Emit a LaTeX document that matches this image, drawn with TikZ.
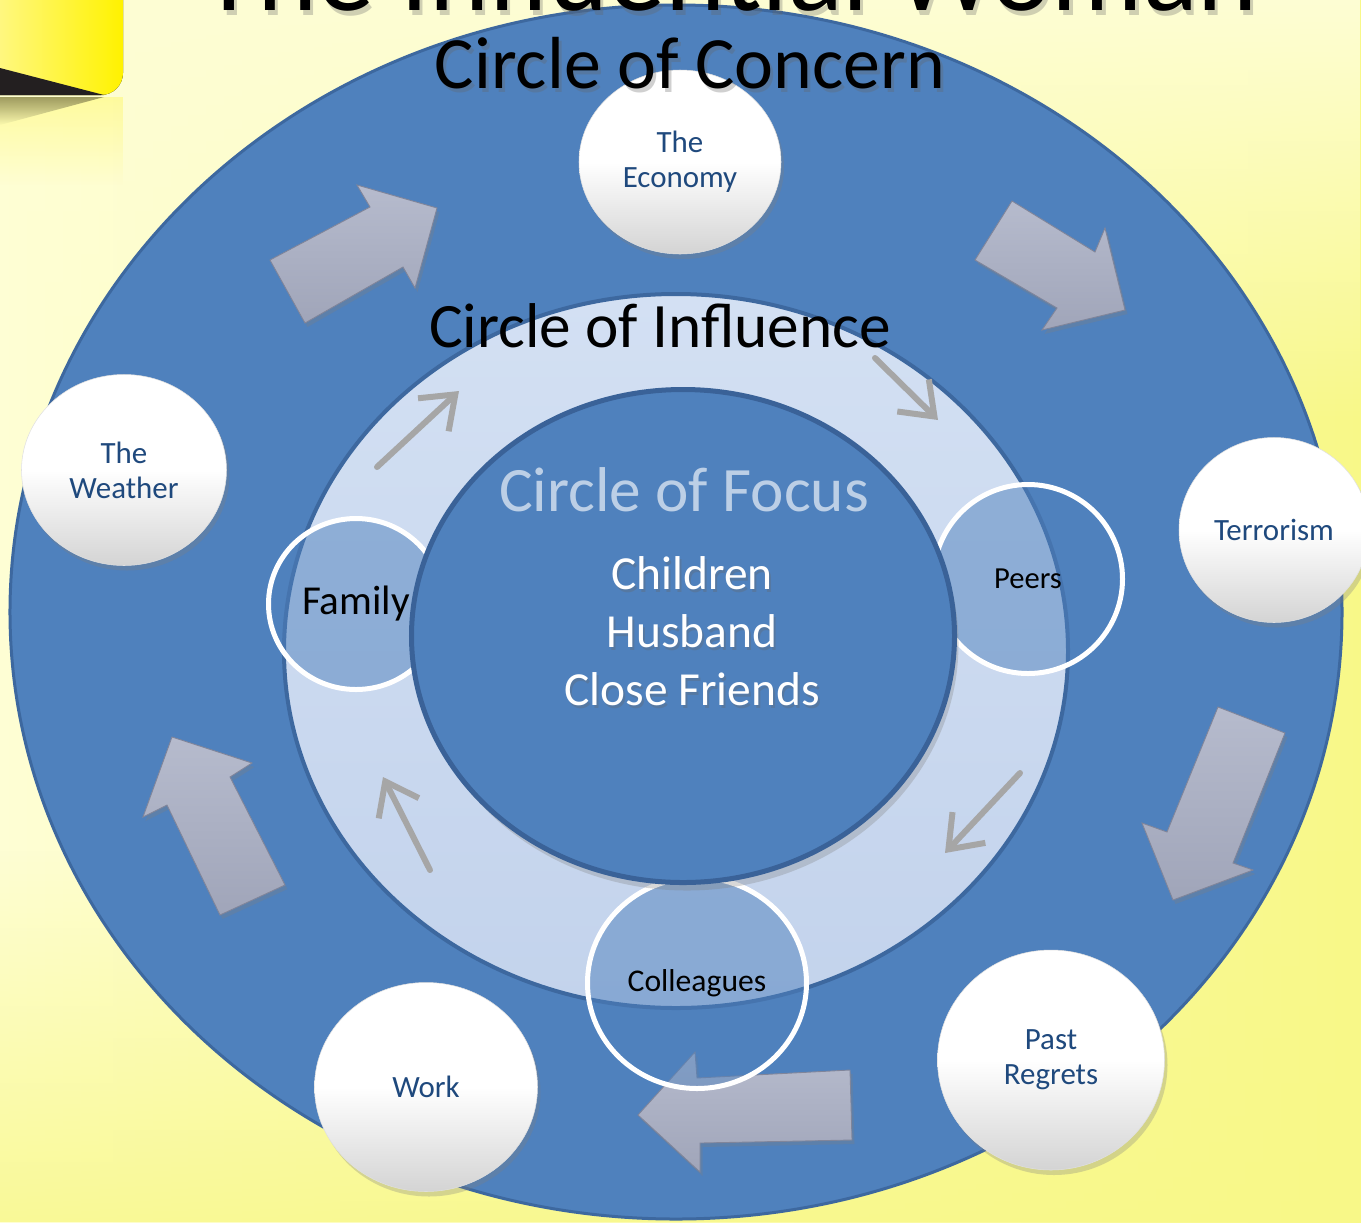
\documentclass[tikz,border=0pt]{standalone}
\usepackage{fontspec}
\setmainfont{Carlito}
\usetikzlibrary{shapes.geometric,shadows,arrows.meta,fadings}

\definecolor{concernblue}{HTML}{4F81BD}
\definecolor{edgeblue}{HTML}{3D689F}
\definecolor{focusedge}{HTML}{3A6298}
\definecolor{ringtop}{HTML}{D3E0F3}
\definecolor{ringlight}{HTML}{C3D3EC}
\definecolor{focustext}{HTML}{BCCFE6}
\definecolor{bubbletext}{HTML}{1F497D}
\definecolor{arrowtop}{HTML}{B6BBCD}
\definecolor{arrowbottom}{HTML}{A0A5B9}
\definecolor{arrowedge}{HTML}{80859A}
\definecolor{flowgray}{HTML}{A6A6A6}
\definecolor{bgpale}{HTML}{FEFED4}
\definecolor{bgyellow}{HTML}{F8F888}
\definecolor{tabpale}{HTML}{FFF9A8}
\definecolor{tabyellow}{HTML}{FFF200}
\definecolor{tabblack}{HTML}{231F20}

\tikzset{
  bubble/.style={ellipse, draw=black!12, line width=.3pt, top color=white, bottom color=black!17, middle color=white,
    text=bubbletext, align=center, inner sep=0pt, font=\fontsize{17.6}{20}\selectfont,
    drop shadow={shadow xshift=.6mm, shadow yshift=-1mm, opacity=.3}},
  member/.style={ellipse, draw=white, line width=1mm, fill=concernblue, fill opacity=.5, text opacity=1, inner sep=0pt},
  blockarrow/.style={draw=arrowedge, line width=.5pt, top color=arrowtop, bottom color=arrowbottom, line join=miter,
    drop shadow={shadow xshift=.5mm, shadow yshift=-.8mm, opacity=.3}},
  flowarrow/.style={draw=flowgray, line width=1.2mm, line cap=round,
    -{Straight Barb[length=6mm, width=9mm, line join=miter]}},
  shade/.style={text=black!60, opacity=.3}
}

\begin{document}
\begin{tikzpicture}[x=0.2mm, y=-0.2mm]
  \useasboundingbox (0,0) rectangle (1361,1222);
  \fill[left color=bgpale, right color=bgyellow] (0,0) rectangle (1361,1222);
  \fill[bgpale, path fading=south] (0,0) rectangle (1361,420);
  \fill[bgyellow, opacity=.8, path fading=north] (0,850) rectangle (1361,1222);

  % corner tab and its reflection
  \fill[left color=tabpale, right color=tabyellow, rounded corners=4.4mm] (-40,-40) rectangle (123,95);
  \fill[tabblack] (0,68) -- (104,95) -- (0,95) -- cycle;
  \fill[black!50, path fading=south] (0,97) -- (104,97) -- (0,125) -- cycle;
  \fill[tabyellow, opacity=.25, path fading=south] (0,97) rectangle (123,185);

  \node[ellipse, fill=concernblue, draw=edgeblue, line width=.6mm, minimum width=266.4mm, minimum height=242.8mm] (concern) at (676,612) {};

  \node[shade, anchor=base, font=\fontsize{65}{70}\selectfont] (womanshade) at (733,15) {The Influential Woman};
  \node[anchor=base, font=\fontsize{65}{70}\selectfont] (woman) at (730,10) {The Influential Woman};

  % block arrows round the outer circle
  \path[blockarrow] (270,260) -- (370,207) -- (357,185) -- (437,208) -- (415,288) -- (403,267) -- (305,323) -- cycle;
  \path[blockarrow] (975,260) -- (1012,201) -- (1095,252) -- (1105,228) -- (1125,310) -- (1042,330) -- (1057,308) -- cycle;
  \path[blockarrow] (1218,707) -- (1285,733) -- (1233,863) -- (1253,870) -- (1173,900) -- (1142,823) -- (1167,832) -- cycle;
  \path[blockarrow] (850,1070) -- (852,1140) -- (700,1143) -- (700,1172) -- (638,1115) -- (695,1052) -- (697,1078) -- cycle;
  \path[blockarrow] (172,737) -- (252,763) -- (230,777) -- (285,885) -- (220,915) -- (167,805) -- (143,817) -- cycle;

  \node[bubble, minimum width=40.4mm, minimum height=36.8mm] (economy) at (680,162) {The\\Economy};
  \node[bubble, minimum width=41mm, minimum height=38.2mm] (weather) at (124,470) {The\\Weather};
  \node[bubble, minimum width=38mm, minimum height=37mm] (terrorism) at (1274,530) {Terrorism};
  \node[bubble, minimum width=45.4mm, minimum height=44mm] (regrets) at (1051,1060) {Past\\Regrets};
  \node[bubble, minimum width=44.6mm, minimum height=41.8mm] (work) at (426,1087) {Work};

  \node[ellipse, draw=edgeblue, line width=.8mm, top color=ringtop, bottom color=ringlight,
    minimum width=156.8mm, minimum height=142.8mm] (influence) at (676,651) {};

  % arrows inside the ring
  \foreach \n/\tx/\ty/\hx/\hy in {a/377/467/459/391, b/875/358/938/420, c/1020/773/945/853, d/430/870/383/777}
  {
    \coordinate (tail\n) at (\tx,\ty);
    \coordinate (head\n) at (\hx,\hy);
    \draw[flowarrow] (tail\n) -- (head\n);
  }

  \node[member, minimum width=35mm, minimum height=34.2mm, font=\fontsize{23.4}{26}\selectfont] (family) at (356,604) {Family};
  \node[member, minimum width=37.8mm, minimum height=37.8mm, font=\fontsize{17.4}{20}\selectfont] (peers) at (1028,579) {Peers};
  \node[member, minimum width=43.8mm, minimum height=42.2mm, font=\fontsize{18}{20}\selectfont] (colleagues) at (697,983) {Colleagues};

  \node[ellipse, fill=concernblue, draw=focusedge, line width=1mm, minimum width=108.6mm, minimum height=98.6mm,
    drop shadow={shadow xshift=.8mm, shadow yshift=-1.6mm, opacity=.3}] (focus) at (683,636) {};

  \node[shade, anchor=base, font=\fontsize{42}{48}\selectfont] (concernshade) at (693,92) {Circle of Concern};
  \node[anchor=base, font=\fontsize{42}{48}\selectfont] (concerntitle) at (690,88) {Circle of Concern};
  \node[anchor=base, font=\fontsize{36}{40}\selectfont] (influencetitle) at (660,347) {Circle of Influence};
  \node[anchor=base, text=focustext, font=\fontsize{36}{40}\selectfont] (focustitle) at (684,511) {Circle of Focus};
  \node[shade, align=center, font=\fontsize{27}{33}\selectfont] (closeshade) at (694,634) {Children\\Husband\\Close Friends};
  \node[text=white, align=center, font=\fontsize{27}{33}\selectfont] (close) at (692,631) {Children\\Husband\\Close Friends};
\end{tikzpicture}
\end{document}
